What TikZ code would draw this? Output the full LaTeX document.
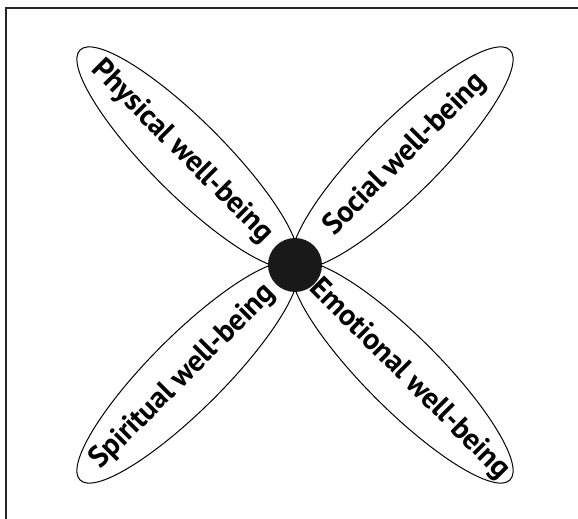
\documentclass[tikz,border=0pt]{standalone}
\usepackage{fontspec}
\setmainfont{PT Sans}[LetterSpace=-1]
\usepackage{tikz}
\usetikzlibrary{positioning,calc}

\begin{document}
\begin{tikzpicture}[x=0.5pt, y=0.5pt,
  petal/.style={draw=black, line width=0.5pt},
  petallabel/.style={font=\bfseries\fontsize{15}{17}\selectfont, inner sep=0pt}]
\useasboundingbox (0,0) rectangle (578,519);
% frame, cut off at right and bottom
\draw[line width=0.8pt, black!85] (6,0) -- (6,511) -- (578,511);
\coordinate (centre) at (295,254);
% four petals
\draw[petal, rotate around={45:(centre)}] ($(centre)+(152,0)$) ellipse [x radius=152, y radius=37];
\draw[petal, rotate around={135:(centre)}] ($(centre)+(152,0)$) ellipse [x radius=152, y radius=37];
\draw[petal, rotate around={225:(centre)}] ($(centre)+(152,0)$) ellipse [x radius=152, y radius=37];
\draw[petal, rotate around={315:(centre)}] ($(centre)+(152,0)$) ellipse [x radius=152, y radius=37];
% labels
\node[petallabel, rotate=45] (social) at ($(centre)+(45:156)$) {Social well-being};
\node[petallabel, rotate=-45] (physical) at ($(centre)+(135:160)$) {Physical well-being};
\node[petallabel, rotate=45] (spiritual) at ($(centre)+(225:158)$) {Spiritual well-being};
\node[petallabel, rotate=-45] (emotional) at ($(centre)+(315:162)$) {Emotional well-being};
% hub
\node[circle, fill=black!90, minimum size=27pt, inner sep=0pt] (hub) at (centre) {};
\end{tikzpicture}
\end{document}
